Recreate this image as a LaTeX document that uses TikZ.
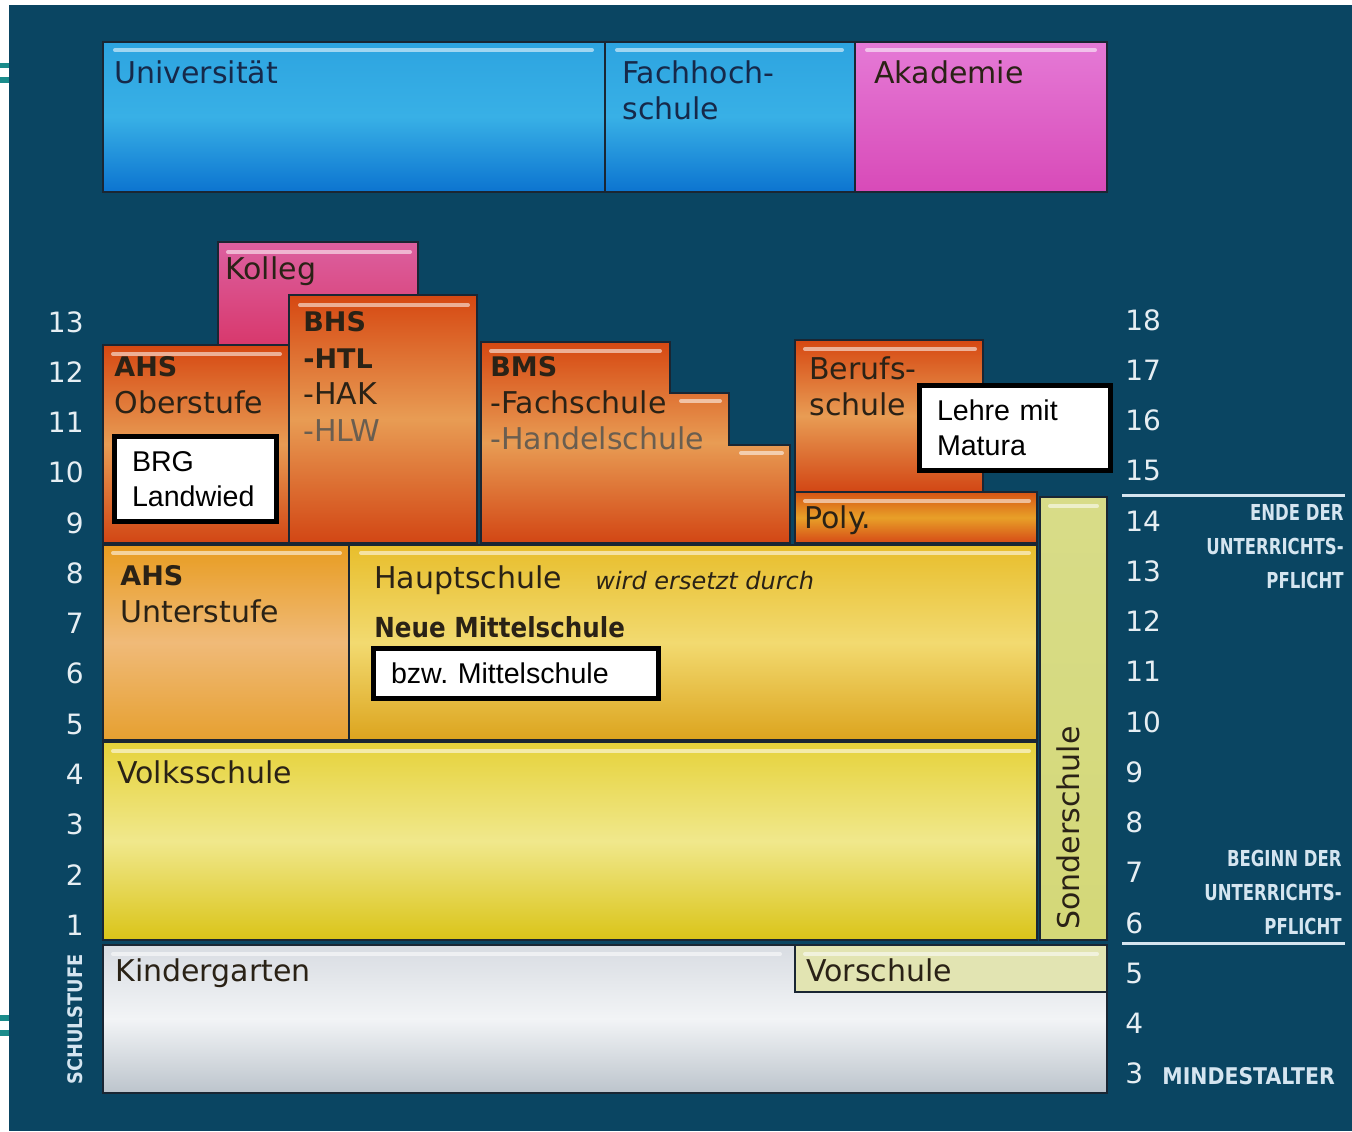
\documentclass[tikz,border=0pt]{standalone}
\usepackage{fontspec}
\setmainfont{DejaVu Sans}
\newfontfamily\arialfont{Liberation Sans}
\newfontfamily\narrowfont[FakeStretch=0.75]{DejaVu Sans}
\newfontfamily\midfont[FakeStretch=0.89]{DejaVu Sans}

\definecolor{panel}{HTML}{0A4562}
\definecolor{tealmark}{HTML}{1B8C8C}
\definecolor{edge}{HTML}{1A2633}
\definecolor{ink}{HTML}{2A2216}
\definecolor{inkl}{HTML}{6A5E50}
\definecolor{navyink}{HTML}{16294A}
\definecolor{numwhite}{HTML}{E6EEF3}
\definecolor{capblue}{HTML}{D5E5F0}

\newcommand{\bhead}[1]{{\bfseries\fontsize{13.5}{18.3}\selectfont #1}}

\tikzset{
  frame/.style={draw=edge, line width=0.9pt},
  bluebox/.style={frame, top color={rgb,255:red,45;green,164;blue,224}, bottom color={rgb,255:red,12;green,116;blue,208}, middle color={rgb,255:red,56;green,176;blue,230}},
  akabox/.style={frame, top color={rgb,255:red,229;green,122;blue,214}, bottom color={rgb,255:red,216;green,74;blue,184}},
  kollegbox/.style={frame, top color={rgb,255:red,220;green,96;blue,160}, bottom color={rgb,255:red,216;green,56;blue,108}},
  orangebox/.style={frame, top color={rgb,255:red,214;green,72;blue,18}, bottom color={rgb,255:red,210;green,70;blue,20}, middle color={rgb,255:red,232;green,156;blue,84}},
  polybox/.style={frame, top color={rgb,255:red,214;green,84;blue,20}, bottom color={rgb,255:red,214;green,74;blue,22}, middle color={rgb,255:red,232;green,160;blue,40}},
  unterbox/.style={frame, top color={rgb,255:red,232;green,156;blue,32}, bottom color={rgb,255:red,230;green,160;blue,48}, middle color={rgb,255:red,240;green,186;blue,120}},
  hauptbox/.style={frame, top color={rgb,255:red,232;green,190;blue,44}, bottom color={rgb,255:red,220;green,164;blue,30}, middle color={rgb,255:red,242;green,218;blue,112}},
  volksbox/.style={frame, top color={rgb,255:red,230;green,210;blue,58}, bottom color={rgb,255:red,218;green,196;blue,24}, middle color={rgb,255:red,240;green,232;blue,140}},
  sonderbox/.style={frame, top color={rgb,255:red,216;green,220;blue,136}, bottom color={rgb,255:red,212;green,216;blue,120}},
  kigabox/.style={frame, top color={rgb,255:red,216;green,220;blue,226}, bottom color={rgb,255:red,188;green,196;blue,204}, middle color={rgb,255:red,242;green,244;blue,246}},
  vorbox/.style={frame, fill={rgb,255:red,226;green,228;blue,178}},
  shine/.style={draw=white, opacity=0.55, line width=2pt, line cap=round},
  lbl/.style={anchor=north west, inner sep=0pt, align=left, text=ink, font=\fontsize{15}{18.3}\selectfont},
  num/.style={inner sep=0pt, text=numwhite, font=\fontsize{14}{16}\selectfont},
  whitebox/.style={anchor=north west, draw=black, fill=white, line width=2.5pt, inner xsep=8.75pt, inner ysep=0pt, align=left, font=\arialfont\fontsize{14.3}{17.5}\selectfont},
  sepline/.style={draw=capblue, line width=1.5pt},
  captxt/.style={inner sep=0pt, align=right, text=capblue, font=\narrowfont\bfseries\fontsize{11}{17}\selectfont}
}

\begin{document}
\begin{tikzpicture}[x=0.5pt,y=-0.5pt]
\useasboundingbox (0,0) rectangle (1352,1131);
\fill[white] (0,0) rectangle (1352,1131);
\fill[panel] (9,5) rectangle (1352,1131);
\fill[tealmark] (0,63) rectangle (9,68);
\fill[tealmark] (0,77) rectangle (9,83);
\fill[tealmark] (0,1015) rectangle (9,1021);
\fill[tealmark] (0,1030) rectangle (9,1036);

% hochschulen
\path[bluebox] (103,42) rectangle (605,192);
\path[bluebox] (605,42) rectangle (855,192);
\path[akabox] (855,42) rectangle (1107,192);

% oberstufe
\path[kollegbox] (218,242) rectangle (418,345);
\path[orangebox] (103,345) rectangle (289,543);
\path[orangebox] (289,295) rectangle (477,543);
\path[orangebox] (481,342) -- (670,342) -- (670,393) -- (729,393) -- (729,445)
  -- (790,445) -- (790,543) -- (481,543) -- cycle;
\path[orangebox] (795,340) rectangle (983,492);
\path[polybox] (795,492) rectangle (1037,543);
\path[sonderbox] (1040,497) rectangle (1107,940);

% unterstufe, volksschule, kindergarten
\path[unterbox] (103,545) rectangle (349,740);
\path[hauptbox] (349,545) rectangle (1037,740);
\path[volksbox] (103,742) rectangle (1037,940);
\path[kigabox] (103,945) rectangle (1107,1093);
\path[vorbox] (795,945) rectangle (1107,992);

\foreach \a/\b/\y in {115/592/50, 617/842/50, 867/1095/50, 228/410/252,
    113/280/354, 300/468/305, 491/660/351, 681/720/401, 741/782/453,
    805/975/349, 805/1029/501, 1050/1097/506, 113/340/553, 361/1029/553,
    113/1029/751, 113/780/954, 805/1097/954}
  \draw[shine] (\a,\y) -- (\b,\y);

% labels
\node[lbl, text=navyink] (uni) at (114,60) {Universität};
\node[lbl, text=navyink] (fh) at (622,60) {Fachhoch-\\schule};
\node[lbl] (aka) at (874,60) {Akademie};
\node[lbl] (kolleg) at (225,256) {Kolleg};
\node[lbl] (bhs) at (303,311) {\bhead{BHS}\\\bhead{-HTL}\\-HAK\\\textcolor{inkl}{-HLW}};
\node[lbl] (ahso) at (114,356) {\bhead{AHS}\\Oberstufe};
\node[lbl] (bms) at (490,356) {\bhead{BMS}\\-Fachschule\\\textcolor{inkl}{-Handelschule}};
\node[lbl] (beruf) at (809,356) {Berufs-\\schule};
\node[lbl] (poly) at (804,505) {Poly.};
\node[lbl] (ahsu) at (120,565) {\bhead{AHS}\\Unterstufe};
\node[lbl] (haupt) at (374,565) {Hauptschule};
\node[lbl, font=\itshape\fontsize{12}{14}\selectfont] (ersetzt) at (595,571) {wird ersetzt durch};
\node[lbl, font=\midfont\bfseries\fontsize{13.8}{16}\selectfont] (nms) at (374,616) {Neue Mittelschule};
\node[lbl] (volks) at (117,760) {Volksschule};
\node[lbl] (kiga) at (115,958) {Kindergarten};
\node[lbl] (vor) at (806,958) {Vorschule};
\node[lbl, rotate=90, anchor=west] (sonder) at (1068,930) {Sonderschule};

% weisse kaesten
\node[whitebox, minimum width=81pt, minimum height=42.5pt, text width=63.5pt] (brg) at (112,434) {BRG\\Landwied};
\node[whitebox, minimum width=95.5pt, minimum height=42.5pt, text width=78pt] (lehre) at (917,383) {Lehre mit\\Matura};
\node[whitebox, minimum width=142.5pt, minimum height=25pt, text width=125pt] (bzw) at (371,646) {bzw.\ Mittelschule};

% schulstufen und alter
\foreach \n in {1,...,13}
  \node[num, anchor=east] (l\n) at (84,{322+(13-\n)*50.25}) {\n};
\foreach \n in {3,...,18}
  \node[num, anchor=west] (r\n) at (1125,{320+(18-\n)*50.25}) {\n};

\draw[sepline] (1122,495) -- (1345,495);
\draw[sepline] (1122,943) -- (1345,943);
\node[captxt, anchor=north east] (ende) at (1344,504) {ENDE DER\\UNTERRICHTS-\\PFLICHT};
\node[captxt, anchor=north east] (beginn) at (1342,850) {BEGINN DER\\UNTERRICHTS-\\PFLICHT};
\node[captxt, anchor=west, font=\midfont\bfseries\fontsize{11.5}{14}\selectfont] (mind) at (1162,1076) {MINDESTALTER};
\node[captxt, rotate=90, anchor=west, font=\midfont\bfseries\fontsize{10}{12}\selectfont] (stufe) at (75,1085) {SCHULSTUFE};
\end{tikzpicture}
\end{document}
